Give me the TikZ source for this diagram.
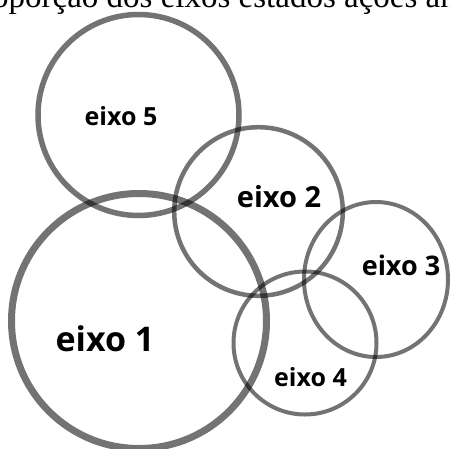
\documentclass[tikz,border=0pt]{standalone}
\usepackage{fontspec}
\setmainfont{Liberation Serif}
\newfontfamily\labelfont{Open Sans}
\begin{document}
\begin{tikzpicture}[x=1pt,y=-1pt,
  ring/.style={draw=black,draw opacity=0.55},
  lab/.style={font=\labelfont\bfseries,text=black,inner sep=0pt}]
\useasboundingbox (0,0) rectangle (450,448);
\clip (0,0) rectangle (450,448);
\node[anchor=base west,inner sep=0pt,font=\fontsize{33}{33}\selectfont] (title) at (-8,7.5) {oporção dos eixos estados ações an};
% circles
\draw[ring,line width=5.5pt] (138.5,115) circle[radius=100.5];
\draw[ring,line width=7pt] (139,321) circle[radius=127.5];
\draw[ring,line width=4.5pt] (258.5,211.5) circle[radius=84.3];
\draw[ring,line width=4pt] (376,279.5) ellipse[x radius=72,y radius=77.5];
\draw[ring,line width=4pt] (305,343) circle[radius=71.5];
% labels
\node[lab,font=\labelfont\bfseries\fontsize{25}{25}\selectfont] (e5) at (121,116) {eixo 5};
\node[lab,font=\labelfont\bfseries\fontsize{34}{34}\selectfont] (e1) at (105,339) {eixo 1};
\node[lab,font=\labelfont\bfseries\fontsize{29}{29}\selectfont] (e2) at (279,197) {eixo 2};
\node[lab,font=\labelfont\bfseries\fontsize{27}{27}\selectfont] (e3) at (401,265) {eixo 3};
\node[lab,font=\labelfont\bfseries\fontsize{25}{25}\selectfont] (e4) at (310.5,377) {eixo 4};
\end{tikzpicture}
\end{document}
